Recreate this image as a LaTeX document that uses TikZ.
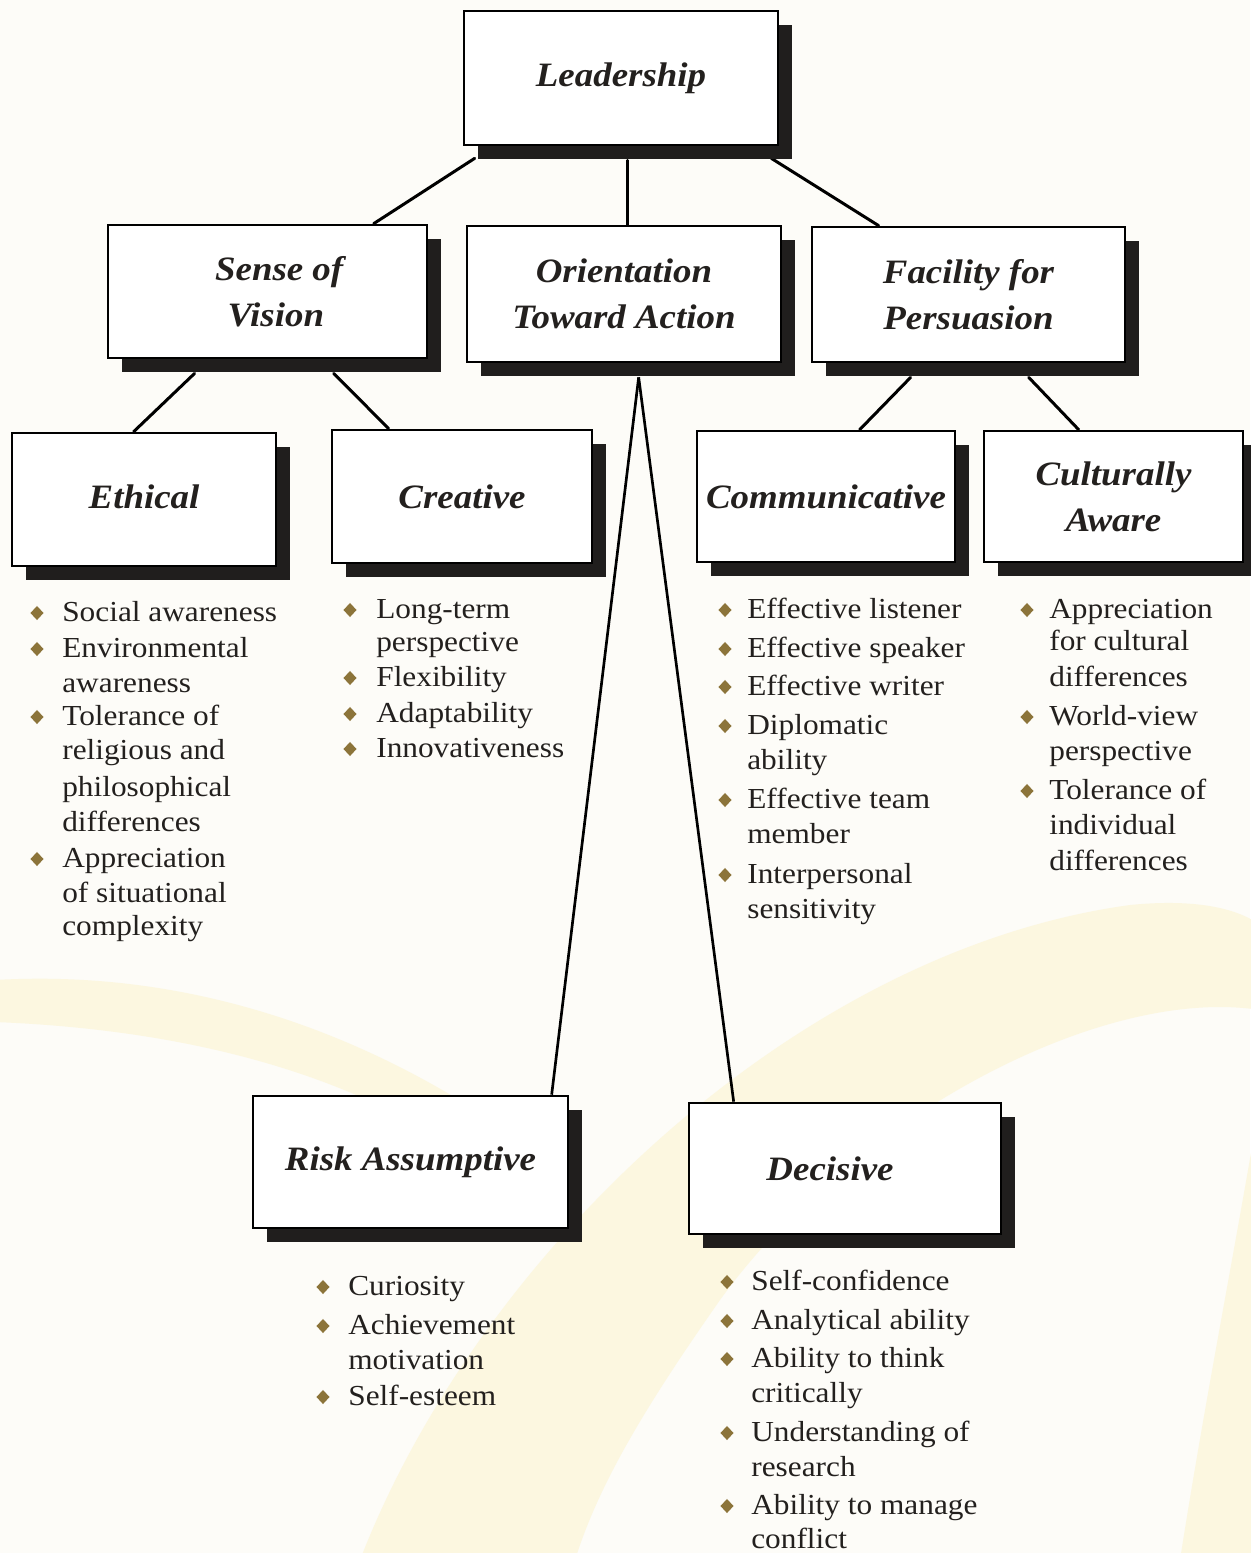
\documentclass[tikz,border=0pt]{standalone}
\usepackage{fontspec}
\setmainfont{Liberation Serif}[FakeStretch=1.08]
\usetikzlibrary{shapes.geometric,shadows,calc,backgrounds}
\definecolor{bgc}{RGB}{253,252,248}
\definecolor{swc}{RGB}{252,247,224}
\definecolor{bulc}{RGB}{140,116,58}
\definecolor{shc}{RGB}{32,30,29}
\definecolor{txc}{RGB}{35,32,30}
\begin{document}
\begin{tikzpicture}[x=0.6pt,y=-0.6pt,
  box/.style 2 args={draw=black, line width=1.6pt, fill=white, inner sep=0pt,
    minimum width={#1*0.6pt}, minimum height={#2*0.6pt}, align=center,
    font=\fontsize{20.5}{27.6}\selectfont\bfseries\itshape, text=txc,
    drop shadow={shadow xshift=8.4pt, shadow yshift=-8.4pt, fill=shc, opacity=1}},
  itm/.style={anchor=base west, inner sep=0pt, font=\fontsize{17.4}{21}\selectfont, text=txc},
  bul/.style={shape=diamond, fill=bulc, inner sep=0pt, minimum width=8pt, minimum height=8.6pt},
  conn/.style={line width=1.8pt, line cap=round, draw=black}
]
\useasboundingbox (0,0) rectangle (1250,1553);

% boxes
\node[box={314}{134}] (lead) at (621,78) {Leadership};
\node[box={319}{133}] (sv) at (267.5,291.5) {\hspace*{14pt}Sense of\\\hspace*{10pt}Vision};
\node[box={314}{136}] (ota) at (624,294) {Orientation\\Toward Action};
\node[box={313}{135}] (ffp) at (968.5,294.5) {Facility for\\Persuasion};
\node[box={264}{133}] (eth) at (144,499.5) {\raisebox{4pt}{Ethical}};
\node[box={260}{133}] (cre) at (462,496.5) {Creative};
\node[box={258}{131}] (com) at (826,496.5) {Communicative};
\node[box={259}{131}] (cul) at (1113.5,496.5) {Culturally\\Aware};
\node[box={315}{132}] (risk) at (410.5,1162) {Risk Assumptive};
\node[box={312}{131}] (dec) at (845,1168.5) {\hspace*{-18pt}Decisive};

% Ethical list
\foreach \t/\y [count=\k] in {Social awareness/621, Environmental/657, awareness/692,
  Tolerance of/725, religious and/759, philosophical/796, differences/831,
  Appreciation/867, of situational/902, complexity/935}
  \node[itm] (eth\k) at (62,\y) {\t};
\foreach \y [count=\k] in {621,657,725,867} \node[bul] (ethb\k) at (37,\y-8) {};

% Creative list
\foreach \t/\y [count=\k] in {Long-term/618, perspective/651, Flexibility/686,
  Adaptability/722, Innovativeness/757}
  \node[itm] (cre\k) at (376,\y) {\t};
\foreach \y [count=\k] in {618,686,722,757} \node[bul] (creb\k) at (350,\y-8) {};

% Communicative list
\foreach \t/\y [count=\k] in {Effective listener/618, Effective speaker/657,
  Effective writer/695, Diplomatic/734, ability/769, Effective team/808,
  member/843, Interpersonal/883, sensitivity/918}
  \node[itm] (com\k) at (747,\y) {\t};
\foreach \y [count=\k] in {618,657,695,734,808,883} \node[bul] (comb\k) at (725,\y-8) {};

% Culturally aware list
\foreach \t/\y [count=\k] in {Appreciation/618, for cultural/650, differences/686,
  World-view/725, perspective/760, Tolerance of/799, individual/834, differences/870}
  \node[itm] (cul\k) at (1049,\y) {\t};
\foreach \y [count=\k] in {618,725,799} \node[bul] (culb\k) at (1027,\y-8) {};

% Risk list
\foreach \t/\y [count=\k] in {Curiosity/1295, Achievement/1334, motivation/1369, Self-esteem/1405}
  \node[itm] (risk\k) at (348,\y) {\t};
\foreach \y [count=\k] in {1295,1334,1405} \node[bul] (riskb\k) at (323,\y-8) {};

% Decisive list
\foreach \t/\y [count=\k] in {Self-confidence/1290, Analytical ability/1329,
  Ability to think/1367, critically/1402, Understanding of/1441, research/1476,
  Ability to manage/1514, conflict/1548}
  \node[itm] (dec\k) at (751,\y) {\t};
\foreach \y [count=\k] in {1290,1329,1367,1441,1514} \node[bul] (decb\k) at (727,\y-8) {};

\begin{scope}[on background layer]
  \fill[bgc] (0,0) rectangle (1250,1553);
  % watermark swoosh
  \fill[swc] (360,1560) .. controls (480,1250) and (800,950) .. (1130,905)
     .. controls (1200,898) and (1240,910) .. (1260,925) -- (1260,1010)
     .. controls (1100,985) and (850,1120) .. (720,1300)
     .. controls (650,1400) and (600,1480) .. (575,1560) -- cycle;
  \fill[swc] (-5,980) .. controls (200,968) and (380,1040) .. (520,1140)
     -- (505,1185) .. controls (380,1080) and (200,1030) .. (-5,1022) -- cycle;
  \fill[swc] (1260,1100) .. controls (1235,1250) and (1205,1400) .. (1180,1560)
     -- (1260,1560) -- cycle;
  % connectors
  \draw[conn] ($(lead.south west)+(12,12)$) -- ($(sv.north west)+(267,0)$);
  \draw[conn] ($(lead.south)+(6,14)$) -- ($(ota.north)+(3,0)$);
  \draw[conn] ($(lead.south east)+(-8,12)$) -- ($(ffp.north west)+(68,0)$);
  \draw[conn] ($(sv.south west)+(88,14)$) -- ($(eth.north west)+(123,0)$);
  \draw[conn] ($(sv.south west)+(227,14)$) -- ($(cre.north west)+(58,0)$);
  \draw[conn] ($(ffp.south west)+(100,14)$) -- ($(com.north west)+(164,0)$);
  \draw[conn] ($(ffp.south west)+(218,14)$) -- ($(cul.north west)+(96,0)$);
  \coordinate (apex) at ($(ota.south west)+(173,14)$);
  \draw[line width=1.6pt] (apex) -- ($(risk.north west)+(300,0)$);
  \draw[line width=1.6pt] (apex) -- ($(dec.north west)+(46,0)$);
\end{scope}
\end{tikzpicture}
\end{document}
